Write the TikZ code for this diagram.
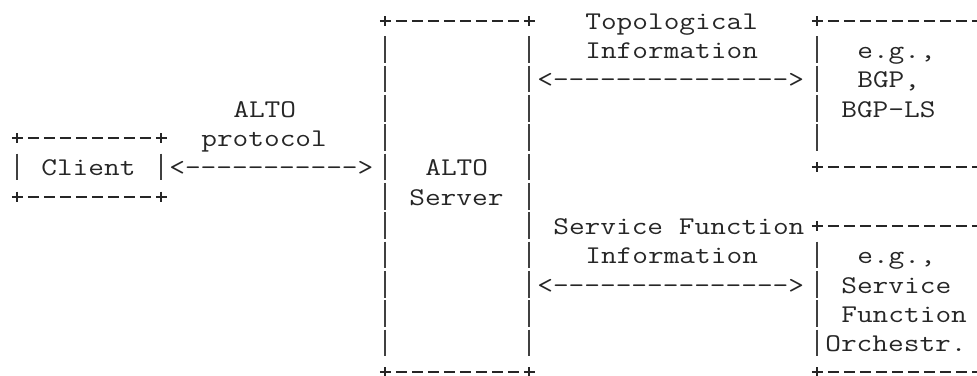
\documentclass[tikz,border=0pt]{standalone}
\usepackage{graphicx}
\tikzset{
  asc/.style={inner sep=0pt, outer sep=0pt, anchor=base west, text=black!85,
              font=\fontsize{25.5}{30}\selectfont\ttfamily},
  vbar/.style={line width=1.8pt, draw=black!75},
  brd/.style={line width=2pt, draw=black!85}
}
\newcommand\dsh[1]{\foreach \n in {1,...,#1}{-\kern0pt}}
% name, column, line, text
\newcommand\gridtxt[4]{\node[asc] (#1) at ({9.33+16*#2},{29.3+29.33*#3}) {\scalebox{1.195}[1]{#4}};}
% column, list of lines
\newcommand\vbars[2]{\foreach \k in {#2}{\draw[vbar] ({17.33+16*#1},{6.9+29.33*\k}) -- ({17.33+16*#1},{33.8+29.33*\k});}}
% border pieces: column, line
\newcommand\plusat[2]{\draw[brd] ({17.33+16*#1-5.5},{21+29.28*#2}) -- ++(11,0)
   ({17.33+16*#1},{21+29.28*#2-5}) -- ++(0,10);}
\newcommand\dashat[2]{\draw[brd] ({17.33+16*#1-5.5},{21+29.28*#2}) -- ++(11,0);}
% closed edge: first col, last col, line
\newcommand\boxedge[3]{\plusat{#1}{#3}\plusat{#2}{#3}%
   \pgfmathtruncatemacro\ca{#1+1}\pgfmathtruncatemacro\cb{#2-1}%
   \foreach \c in {\ca,...,\cb}{\dashat{\c}{#3}}}
% open edge running off the right side: first col, line
\newcommand\openedge[2]{\plusat{#1}{#2}%
   \pgfmathtruncatemacro\ca{#1+1}%
   \foreach \c in {\ca,...,60}{\dashat{\c}{#2}}}
\begin{document}
\begin{tikzpicture}[x=1pt,y=-1pt]
\useasboundingbox (0,0) rectangle (977,375);
% ALTO server box
\boxedge{23}{32}{0}
\boxedge{23}{32}{12}
\vbars{23}{1,...,11}
\vbars{32}{1,...,11}
\gridtxt{srvA}{26}{5}{ALTO}
\gridtxt{srvB}{25}{6}{Server}
% client box
\boxedge{0}{9}{4}
\boxedge{0}{9}{6}
\vbars{0}{5}
\vbars{9}{5}
\gridtxt{cli}{2}{5}{Client}
% ALTO protocol connector
\gridtxt{protoA}{14}{3}{ALTO}
\gridtxt{protoB}{12}{4}{protocol}
\gridtxt{protoarrow}{10}{5}{<\dsh{11}>}
% topology source box
\openedge{50}{0}
\openedge{50}{5}
\vbars{50}{1,2,3,4}
\gridtxt{topoA}{53}{1}{e.g.,}
\gridtxt{topoB}{53}{2}{BGP,}
\gridtxt{topoC}{52}{3}{BGP-LS}
% topological information connector
\gridtxt{topolA}{36}{0}{Topological}
\gridtxt{topolB}{36}{1}{Information}
\gridtxt{topoarrow}{33}{2}{<\dsh{15}>}
% service function box
\openedge{50}{7}
\openedge{50}{12}
\vbars{50}{8,9,10,11}
\gridtxt{sfA}{53}{8}{e.g.,}
\gridtxt{sfB}{52}{9}{Service}
\gridtxt{sfC}{52}{10}{Function}
\gridtxt{sfD}{51}{11}{Orchestr.}
% service function information connector
\gridtxt{sflA}{34}{7}{Service Function}
\gridtxt{sflB}{36}{8}{Information}
\gridtxt{sfarrow}{33}{9}{<\dsh{15}>}
\end{tikzpicture}
\end{document}
